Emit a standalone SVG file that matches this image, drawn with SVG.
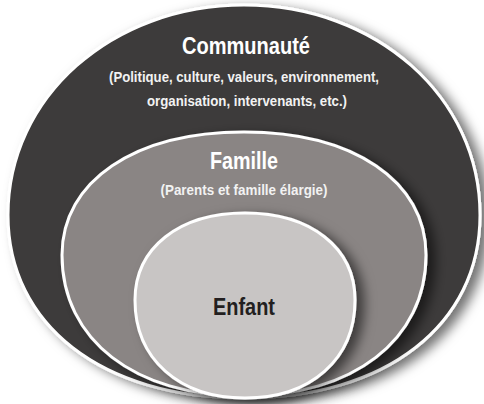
<svg xmlns="http://www.w3.org/2000/svg" width="484" height="404" viewBox="0 0 484 404">
<style>
.sh{stroke:#fff;stroke-width:3;filter:url(#ds)}
.t{font-family:"Liberation Sans",Arial,sans-serif;font-weight:bold;text-anchor:middle}
.h{font-size:23px;fill:#fff}
.s{font-size:14px;fill:#f2f2f2}
</style>
<defs>
<filter id="ds" x="-10%" y="-10%" width="125%" height="125%">
<feDropShadow dx="8" dy="4" stdDeviation="6" flood-color="#000" flood-opacity="0.55"/>
</filter>
</defs>
<rect width="484" height="404" fill="#fff"/>
<g id="communaute">
<path class="sh" fill="#3d3b3a" d="M244,5 C376,5 480,97 480,215 C480,325 386,398 244,398 C102,398 8,325 8,215 C8,97 112,5 244,5Z"/>
<text class="t h" x="246" y="54" textLength="128" lengthAdjust="spacingAndGlyphs">Communauté</text>
<text class="t s" x="244" y="82" textLength="270" lengthAdjust="spacingAndGlyphs">(Politique, culture, valeurs, environnement,</text>
<text class="t s" x="247" y="106" textLength="200" lengthAdjust="spacingAndGlyphs">organisation, intervenants, etc.)</text>
</g>
<g id="famille">
<path class="sh" fill="#8a8584" d="M244,132 C353,132 426,181 426,255 C426,340 353,396 244,396 C135,396 62,340 62,255 C62,181 135,132 244,132Z"/>
<text class="t h" x="244" y="169" textLength="68" lengthAdjust="spacingAndGlyphs">Famille</text>
<text class="t s" x="244" y="195" textLength="167" lengthAdjust="spacingAndGlyphs">(Parents et famille élargie)</text>
</g>
<g id="enfant">
<path class="sh" fill="#c8c5c4" d="M245,213 C311,213 355,248 355,300 C355,359 311,398 245,398 C179,398 135,359 135,300 C135,248 179,213 245,213Z"/>
<text class="t h" x="244" y="315" textLength="62" lengthAdjust="spacingAndGlyphs" style="fill:#231f20">Enfant</text>
</g>
</svg>
